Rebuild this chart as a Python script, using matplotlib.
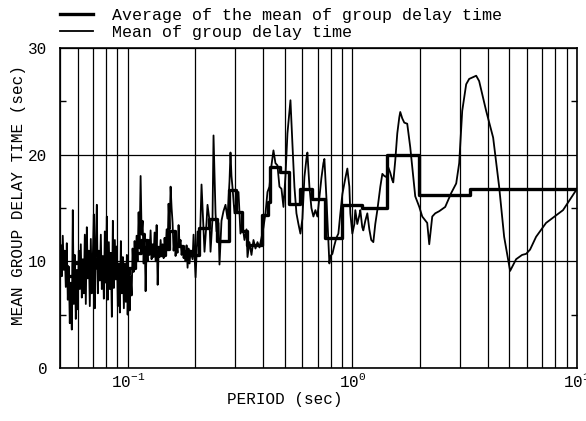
import matplotlib
matplotlib.use('Agg')
import matplotlib.pyplot as plt
from matplotlib.ticker import FixedLocator, LogLocator

plt.rcParams['font.family'] = ['Liberation Mono', 'DejaVu Sans']
plt.rcParams['mathtext.fontset'] = 'custom'
plt.rcParams['mathtext.rm'] = 'Liberation Mono'
plt.rcParams['mathtext.it'] = 'Liberation Mono'
plt.rcParams['mathtext.bf'] = 'Liberation Mono'

# mean of group delay time (thin line)
period = [
    0.05040, 0.05092, 0.05144, 0.05197, 0.05251, 0.05305, 0.05360, 0.05415, 0.05471, 0.05527,
    0.05584, 0.05642, 0.05700, 0.05759, 0.05818, 0.05878, 0.05939, 0.06000, 0.06062, 0.06124,
    0.06188, 0.06251, 0.06316, 0.06381, 0.06447, 0.06513, 0.06581, 0.06649, 0.06717, 0.06786,
    0.06856, 0.06927, 0.06998, 0.07071, 0.07144, 0.07217, 0.07292, 0.07367, 0.07443, 0.07519,
    0.07597, 0.07675, 0.07755, 0.07835, 0.07915, 0.07997, 0.08079, 0.08163, 0.08247, 0.08332,
    0.08418, 0.08505, 0.08593, 0.08681, 0.08771, 0.08862, 0.08953, 0.09045, 0.09139, 0.09233,
    0.09328, 0.09424, 0.09521, 0.09620, 0.09719, 0.09819, 0.09920, 0.1000, 0.1010, 0.1021,
    0.1031, 0.1042, 0.1052, 0.1063, 0.1074, 0.1085, 0.1096, 0.1107, 0.1119, 0.1130,
    0.1142, 0.1154, 0.1166, 0.1178, 0.1190, 0.1202, 0.1214, 0.1227, 0.1240, 0.1252,
    0.1265, 0.1278, 0.1292, 0.1305, 0.1318, 0.1332, 0.1346, 0.1360, 0.1374, 0.1388,
    0.1402, 0.1417, 0.1431, 0.1446, 0.1460, 0.1475, 0.1491, 0.1506, 0.1521, 0.1537,
    0.1553, 0.1569, 0.1585, 0.1601, 0.1618, 0.1634, 0.1651, 0.1668, 0.1685, 0.1703,
    0.1720, 0.1738, 0.1755, 0.1774, 0.1792, 0.1810, 0.1829, 0.1848, 0.1866, 0.1886,
    0.1905, 0.1945, 0.1965, 0.2006, 0.2047, 0.2089, 0.2132, 0.2176, 0.2198, 0.2244,
    0.2267, 0.2314, 0.2338, 0.2386, 0.2411, 0.2461, 0.2486, 0.2537, 0.2563, 0.2616,
    0.2670, 0.2726, 0.2782, 0.2840, 0.2869, 0.2898, 0.2929, 0.2989, 0.3051, 0.3114,
    0.3178, 0.3244, 0.3311, 0.3380, 0.3415, 0.3485, 0.3557, 0.3631, 0.3706, 0.3783,
    0.3861, 0.3941, 0.4022, 0.4106, 0.4191, 0.4277, 0.4366, 0.4456, 0.4548, 0.4642,
    0.4738, 0.4837, 0.4937, 0.5039, 0.5143, 0.5250, 0.5304, 0.5358, 0.5412, 0.5524,
    0.5639, 0.5755, 0.5874, 0.5995, 0.6119, 0.6246, 0.6310, 0.6441, 0.6574, 0.6710,
    0.6849, 0.6990, 0.7135, 0.7283, 0.7433, 0.7510, 0.7665, 0.7824, 0.7904, 0.7985,
    0.8150, 0.8319, 0.8491, 0.8667, 0.8845, 0.9028, 0.9309, 0.9501, 0.9698, 0.9797,
    1.000, 1.021, 1.031, 1.052, 1.074, 1.085, 1.107, 1.119, 1.142, 1.166,
    1.190, 1.214, 1.240, 1.265, 1.292, 1.318, 1.332, 1.360, 1.388, 1.417,
    1.446, 1.475, 1.506, 1.521, 1.553, 1.585, 1.618, 1.634, 1.668, 1.703,
    1.755, 1.810, 1.866, 1.905, 1.986, 2.047, 2.154, 2.199, 2.268, 2.338,
    2.436, 2.590, 2.754, 2.899, 2.989, 3.083, 3.211, 3.311, 3.558, 3.667,
    3.941, 4.233, 4.501, 4.738, 5.036, 5.357, 5.695, 5.934, 6.180, 6.573,
    7.280, 8.664, 10.0,
]
mean_delay = [
    11.5, 8.6, 12.4, 9.2, 11.0, 7.6, 11.7, 6.4, 9.5, 4.2,
    8.0, 3.6, 14.8, 6.0, 10.6, 4.6, 9.2, 5.5, 11.0, 7.4,
    11.6, 6.6, 10.2, 7.0, 12.5, 6.0, 13.2, 8.4, 11.0, 5.8,
    12.1, 7.0, 10.4, 14.4, 5.6, 11.8, 15.3, 7.0, 11.0, 8.2,
    12.5, 7.4, 10.5, 6.5, 12.8, 8.0, 14.2, 6.4, 11.8, 7.4,
    10.8, 4.8, 13.8, 7.5, 12.0, 8.3, 11.4, 5.8, 9.8, 5.2,
    11.9, 7.0, 10.4, 5.6, 9.8, 6.2, 10.6, 5.0, 9.4, 5.4,
    8.6, 6.8, 11.2, 9.0, 11.9, 9.6, 12.4, 10.0, 14.6, 11.2,
    18.0, 12.5, 13.8, 9.8, 12.6, 7.2, 11.4, 10.0, 12.0, 10.6,
    12.9, 10.2, 11.6, 10.4, 12.7, 10.0, 13.4, 7.8, 11.0, 10.4,
    12.0, 10.6, 11.6, 10.3, 12.2, 10.8, 13.0, 11.2, 15.4, 13.0,
    17.0, 15.0, 13.6, 11.0, 12.2, 10.5, 11.6, 10.8, 13.4, 11.5,
    12.0, 10.6, 11.4, 10.3, 11.0, 10.0, 11.5, 9.4, 11.2, 9.8,
    11.0, 10.2, 12.5, 8.5, 12.8, 10.6, 17.2, 13.1, 10.9, 13.6,
    15.3, 13.8, 10.9, 14.0, 21.8, 14.5, 12.8, 13.6, 9.7, 13.8,
    14.7, 15.3, 14.0, 17.5, 20.2, 18.0, 16.9, 14.5, 15.7, 16.5,
    12.6, 13.4, 12.0, 13.0, 10.4, 11.8, 10.6, 12.0, 11.2, 11.8,
    11.3, 12.2, 13.2, 14.5, 16.5, 17.0, 19.0, 20.4, 19.2, 19.0,
    17.0, 16.8, 15.1, 18.0, 22.0, 24.0, 25.1, 23.0, 21.0, 17.0,
    14.5, 13.5, 12.6, 14.0, 17.9, 19.6, 20.2, 17.0, 15.0, 14.2,
    14.8, 14.2, 16.0, 17.8, 19.2, 19.6, 16.0, 12.0, 9.8, 10.5,
    10.7, 11.5, 12.2, 12.6, 14.5, 16.3, 17.8, 18.7, 17.0, 14.5,
    12.6, 13.5, 14.8, 13.5, 14.3, 14.8, 13.2, 12.9, 13.8, 14.5,
    13.0, 12.0, 11.8, 13.5, 14.8, 16.2, 17.0, 18.2, 18.0, 17.9,
    18.8, 18.3, 17.6, 17.4, 19.5, 22.0, 23.5, 24.0, 23.4, 23.0,
    22.9, 20.7, 17.9, 16.1, 15.1, 14.2, 13.6, 11.6, 14.2, 14.5,
    14.7, 15.1, 16.4, 17.3, 19.2, 24.1, 26.6, 27.1, 27.4, 26.9,
    24.1, 21.6, 17.0, 12.3, 9.1, 10.2, 10.6, 10.7, 11.1, 12.3,
    13.6, 14.8, 16.8,
]

# average of the mean (thick step line): band edges and levels
avg_edges = [
    0.0504, 0.0536, 0.0570, 0.0619, 0.0672, 0.0729, 0.0791, 0.0859, 0.0933, 0.1010,
    0.1074, 0.1142, 0.1214, 0.1292, 0.1374, 0.1460, 0.1521, 0.1618, 0.1755, 0.1905,
    0.2067, 0.2291, 0.2486, 0.2811, 0.3020, 0.3244, 0.3415, 0.3981, 0.4232, 0.4320,
    0.4786, 0.5250, 0.5874, 0.6639, 0.7586, 0.9028, 1.108, 1.431, 1.986, 3.345,
    10.0,
]
avg_levels = [
    9.6, 8.6, 9.8, 9.0, 10.2, 9.4, 10.4, 9.2, 8.8, 9.4,
    10.8, 12.0, 10.8, 11.3, 10.6, 11.2, 12.8, 11.4, 11.0, 10.6,
    13.1, 14.0, 11.9, 16.7, 14.6, 12.8, 11.5, 14.3, 15.6, 18.8,
    18.4, 15.4, 16.8, 15.8, 12.2, 15.3, 15.0, 20.0, 16.2, 16.8,
    16.8,
]

fig = plt.figure(figsize=(5.86, 4.21), dpi=100)
ax = fig.add_axes([0.1024, 0.1259, 0.8823, 0.7601])

ax.plot(avg_edges, avg_levels, color='black', lw=2.4, drawstyle='steps-post',
        label='Average of the mean of group delay time')
ax.plot(period, mean_delay, color='black', lw=1.3,
        label='Mean of group delay time')

ax.set_xscale('log')
ax.set_xlim(0.05, 10)
ax.set_ylim(0, 30)

ax.xaxis.set_major_locator(LogLocator(base=10))
ax.xaxis.set_minor_locator(LogLocator(base=10, subs=range(2, 10)))
ax.yaxis.set_major_locator(FixedLocator([0, 10, 20, 30]))
ax.yaxis.set_minor_locator(FixedLocator([5, 15, 25]))

ax.grid(True, axis='x', which='both', color='black', lw=0.9)
ax.grid(True, axis='y', which='major', color='black', lw=0.9)

ax.tick_params(axis='x', which='both', length=0, labelsize=11.5, pad=3)
ax.tick_params(axis='y', which='major', length=0, labelsize=11.5, pad=9)
ax.tick_params(axis='y', which='minor', direction='in', length=4,
               left=True, right=True, width=1)
for s in ax.spines.values():
    s.set_linewidth(1.2)

ax.set_xlabel('PERIOD (sec)', fontsize=11.5, labelpad=5)
ax.xaxis.set_label_coords(0.435, -0.075)
ax.set_ylabel('MEAN GROUP DELAY TIME (sec)', fontsize=11.5)
ax.yaxis.set_label_coords(-0.066, 0.54)

fig.legend(loc='upper left', bbox_to_anchor=(60 / 586, 1 - 8 / 421), frameon=False,
           fontsize=12, handlelength=2.0, handletextpad=1.1,
           labelspacing=0.1, borderaxespad=0, borderpad=0)

fig.savefig('out.png', dpi=100)
